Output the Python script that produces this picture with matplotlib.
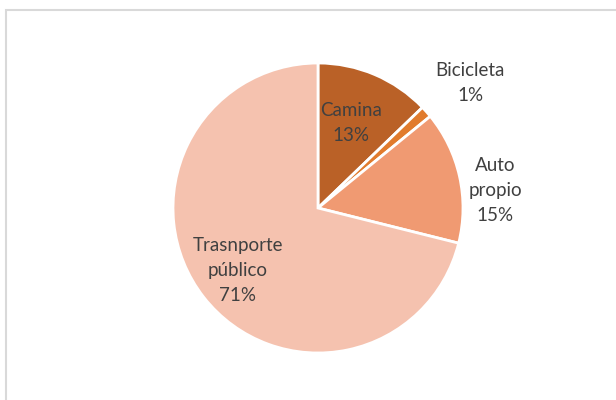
import matplotlib.pyplot as plt
from matplotlib.patches import Rectangle
import numpy as np

labels = ["Camina", "Bicicleta", "Auto\npropio", "Trasnporte\npúblico"]
values = [12.8, 1.3, 14.8, 71.1]
pct_text = ["13%", "1%", "15%", "71%"]
colors = ["#BA6127", "#E17B2D", "#F09A72", "#F5C2AF"]

# label placement: distance from centre (in radii) and small angle nudge (deg)
label_dist = [0.63, 1.36, 1.23, 0.70]
label_nudge = [-2, 2.2, 7, 0]

plt.rcParams["font.family"] = ["Lato", "DejaVu Sans"]

fig = plt.figure(figsize=(6.16, 4.0), dpi=100)
ax = fig.add_axes([0, 0, 1, 1])

wedges, _ = ax.pie(values, colors=colors, startangle=90, counterclock=False,
                   radius=1.0, center=(0, 0),
                   wedgeprops=dict(edgecolor="white", linewidth=2))

for w, lab, pct, d, nud in zip(wedges, labels, pct_text, label_dist, label_nudge):
    mid = np.deg2rad((w.theta1 + w.theta2) / 2 - nud)
    x = d * np.cos(mid)
    y = d * np.sin(mid)
    ax.text(x, y, lab + "\n" + pct, ha="center", va="center",
            fontsize=13.5, color="#404040", linespacing=1.55)

# place the pie the same way as in the reference
r_px = 145
cx, cy = 318, 208
ax.set_xlim(-cx / r_px, (616 - cx) / r_px)
ax.set_ylim(-(400 - cy) / r_px, cy / r_px)
ax.set_aspect("auto")
ax.axis("off")

# chart area frame
fig.patches.append(Rectangle((6 / 616, -0.1), 1.2, 0.1 + (400 - 10) / 400,
                             transform=fig.transFigure, fill=False,
                             edgecolor="#D9D9D9", linewidth=1.5))

fig.savefig("out.png", dpi=100)
